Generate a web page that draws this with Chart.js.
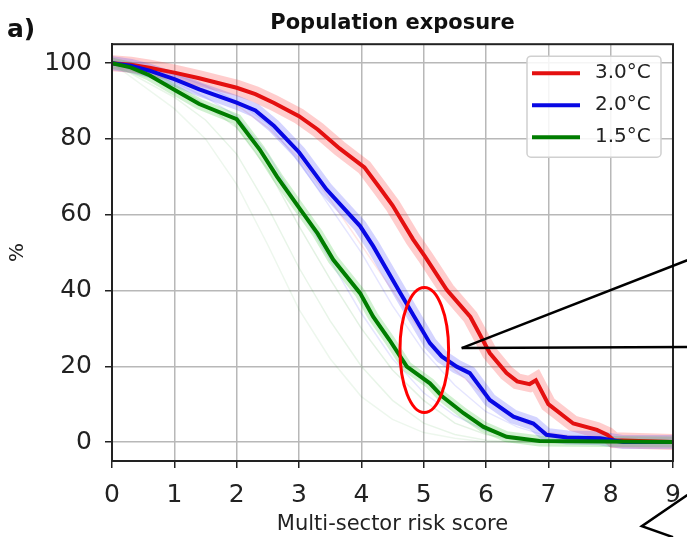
<!DOCTYPE html>
<html>
<head>
<meta charset="utf-8">
<script src="https://cdn.jsdelivr.net/npm/chart.js@4.4.0/dist/chart.umd.min.js"></script>
<style>
  html, body { margin: 0; padding: 0; background: #fff; }
</style>
</head>
<body>
<canvas id="chart" width="687" height="537"></canvas>
<script>
// mean curves
const scoreRed = [0, 0.3, 0.6, 1, 1.4, 2, 2.3, 2.6, 3, 3.3, 3.65, 4.05, 4.3, 4.5, 4.83, 5.02, 5.37, 5.75, 6.06, 6.33, 6.5, 6.7, 6.8, 7.0, 7.4, 7.78, 7.95, 8.05, 9]
const popRed = [100, 99.6, 98.8, 97.5, 96, 93.5, 91.8, 89.5, 86, 82.5, 77.5, 72.5, 67, 62.5, 53.5, 49, 40.2, 33, 23.5, 18.2, 16, 15.3, 16.3, 10, 4.9, 3.2, 1.9, 0.5, 0]

const scoreBlue = [0, 0.3, 0.6, 1, 1.4, 2, 2.3, 2.6, 3, 3.44, 3.98, 4.19, 4.62, 5.1, 5.29, 5.53, 5.74, 6.06, 6.44, 6.76, 6.97, 7.3, 7.83, 8.2, 9]
const popBlue = [100, 99.3, 98, 95.8, 93.1, 89.6, 87.5, 83.4, 76.5, 66.7, 57, 51.7, 39.5, 26.1, 22.6, 19.9, 18.2, 11.1, 6.7, 4.9, 1.9, 1.2, 1, 0, 0]

const scoreGreen = [0, 0.3, 0.6, 1, 1.4, 2, 2.37, 2.65, 3.02, 3.3, 3.55, 3.98, 4.19, 4.45, 4.73, 5.1, 5.3, 5.64, 5.96, 6.33, 6.86, 9]
const popGreen = [100, 98.9, 96.8, 93, 89.2, 85.2, 77.2, 70, 61.4, 55, 48.1, 39.3, 33.1, 27, 19.9, 15.5, 12, 7.6, 4, 1.4, 0.3, 0]

// a few of the faint single-model lines
const faintScore = [0, 1, 1.5, 2, 2.5, 3, 3.5, 4, 4.5, 5, 5.5, 6, 6.5, 7, 8, 9]
const greenFaintA = [100, 88, 80, 68, 52, 35, 22, 12, 6, 2.5, 1, 0, 0, 0, 0, 0]
const greenFaintB = [100, 91, 85, 76, 62, 46, 32, 20, 11, 5, 2, 0.5, 0, 0, 0, 0]
const greenFaintC = [100, 94, 89, 83, 72, 57, 43, 30, 19, 11, 5, 2, 0.5, 0, 0, 0]
const blueFaintA = [100, 95, 91, 86, 76, 62, 48, 34, 22, 13, 7, 3, 1, 0, 0, 0]
const blueFaintB = [100, 97, 94, 90, 84, 74, 62, 50, 36, 24, 15, 8, 4, 1.5, 0, 0]
const redFaintA = [100, 96, 93, 89, 83, 75, 64, 52, 40, 28, 19, 12, 6, 2.5, 0, 0]

const labels = ['3.0°C', '2.0°C', '1.5°C']
const xTicks = [0, 1, 2, 3, 4, 5, 6, 7, 8, 9]
const yTicks = [0, 20, 40, 60, 80, 100]

// red ring + callout, in data units
const ringCenter = [5.01, 24.3]
const ringRadius = [0.39, 16.5]
const calloutTip = [5.61, 24.8]
const calloutEnds = [[9.23, 48], [9.23, 25.1]]
const cornerLines = [[9.23, -14], [8.5, -22.2], [9.0, -25.1]]

const RED = 'rgb(228,16,16)'
const BLUE = 'rgb(8,8,228)'
const GREEN = 'rgb(0,125,0)'
const FONT = 'DejaVu Sans'

const pts = (xs, ys) => xs.map((v, i) => ({ x: v, y: ys[i] }))

function faint(data, color) {
    return { data: pts(faintScore, data), borderColor: color, borderWidth: 1.5, pointRadius: 0, order: 10 }
}

const datasets = [
    { label: labels[2], data: pts(scoreGreen, popGreen), borderColor: GREEN, borderWidth: 4, pointRadius: 0, order: 0 },
    { label: labels[1], data: pts(scoreBlue, popBlue), borderColor: BLUE, borderWidth: 4, pointRadius: 0, order: 1 },
    { label: labels[0], data: pts(scoreRed, popRed), borderColor: RED, borderWidth: 4, pointRadius: 0, order: 2 },
    { data: pts(scoreGreen, popGreen), borderColor: 'rgba(40,190,40,0.22)', borderWidth: 11, pointRadius: 0, order: 3 },
    { data: pts(scoreBlue, popBlue), borderColor: 'rgba(60,60,255,0.22)', borderWidth: 14, pointRadius: 0, order: 4 },
    { data: pts(scoreRed, popRed), borderColor: 'rgba(255,60,60,0.26)', borderWidth: 16, pointRadius: 0, order: 5 },
    faint(greenFaintA, 'rgba(0,140,0,0.07)'),
    faint(greenFaintB, 'rgba(0,140,0,0.09)'),
    faint(greenFaintC, 'rgba(0,140,0,0.11)'),
    faint(blueFaintA, 'rgba(0,0,255,0.1)'),
    faint(blueFaintB, 'rgba(0,0,255,0.1)'),
    faint(redFaintA, 'rgba(255,0,0,0.1)')
]

const extras = {
    id: 'extras',
    afterDraw(chart) {
        const ctx = chart.ctx
        const sx = chart.scales.x, sy = chart.scales.y
        const area = chart.chartArea
        const px = p => [sx.getPixelForValue(p[0]), sy.getPixelForValue(p[1])]
        ctx.save()

        // outer box (top / right spines)
        ctx.strokeStyle = '#222'
        ctx.lineWidth = 2
        ctx.strokeRect(area.left, area.top, area.right - area.left, area.bottom - area.top)

        // legend
        const lw = 134, lh = 101
        const lx = area.right - 12 - lw, ly = area.top + 12
        ctx.fillStyle = 'rgba(255,255,255,0.85)'
        ctx.strokeStyle = '#d0d0d0'
        ctx.lineWidth = 1.5
        ctx.beginPath()
        ctx.roundRect(lx, ly, lw, lh, 4)
        ctx.fill()
        ctx.stroke()
        const legendItems = [[labels[0], RED], [labels[1], BLUE], [labels[2], GREEN]]
        ctx.font = '20px "' + FONT + '"'
        ctx.textBaseline = 'middle'
        legendItems.forEach((it, i) => {
            const yy = ly + 17 + i * 32
            ctx.strokeStyle = it[1]
            ctx.lineWidth = 4
            ctx.beginPath()
            ctx.moveTo(lx + 5, yy)
            ctx.lineTo(lx + 53, yy)
            ctx.stroke()
            ctx.fillStyle = '#222'
            ctx.fillText(it[0], lx + 68, yy)
        })

        // panel letter
        ctx.fillStyle = '#111'
        ctx.font = 'bold 25px "' + FONT + '"'
        ctx.textBaseline = 'middle'
        ctx.fillText('a)', 7, 30)

        // red ring
        const c = px(ringCenter)
        const rx = sx.getPixelForValue(ringCenter[0] + ringRadius[0]) - c[0]
        const ry = c[1] - sy.getPixelForValue(ringCenter[1] + ringRadius[1])
        ctx.strokeStyle = '#f00'
        ctx.lineWidth = 3
        ctx.beginPath()
        ctx.ellipse(c[0], c[1], rx, ry, 0, 0, 2 * Math.PI)
        ctx.stroke()

        // callout lines
        ctx.strokeStyle = '#000'
        ctx.lineWidth = 2.5
        const tip = px(calloutTip)
        calloutEnds.forEach(e => {
            const p = px(e)
            ctx.beginPath()
            ctx.moveTo(tip[0], tip[1])
            ctx.lineTo(p[0], p[1])
            ctx.stroke()
        })
        ctx.beginPath()
        cornerLines.forEach((e, i) => {
            const p = px(e)
            if (i === 0) ctx.moveTo(p[0], p[1])
            else ctx.lineTo(p[0], p[1])
        })
        ctx.stroke()
        ctx.restore()
    }
}

new Chart(document.getElementById('chart').getContext('2d'), {
    type: 'line',
    data: { datasets },
    plugins: [extras],
    options: {
        responsive: false,
        animation: false,
        devicePixelRatio: 1,
        layout: { padding: { left: 0, right: 14, top: 0, bottom: 0 } },
        plugins: {
            legend: { display: false },
            tooltip: { enabled: false },
            title: {
                display: true,
                text: 'Population exposure',
                fullSize: false,
                color: '#111',
                font: { family: FONT, size: 21, weight: 'bold' },
                padding: { top: 11, bottom: 8 }
            }
        },
        scales: {
            x: {
                type: 'linear',
                min: 0,
                max: 9,
                afterFit: s => { s.height = 76; s.paddingLeft = 0; s.paddingRight = 0 },
                afterBuildTicks: s => { s.ticks = xTicks.map(v => ({ value: v })) },
                ticks: { color: '#222', font: { family: FONT, size: 25 }, padding: 12, maxRotation: 0 },
                grid: { color: '#b8b8b8', lineWidth: 1.5, tickLength: 7, tickColor: '#222', tickWidth: 1.5 },
                border: { color: '#222', width: 2 },
                title: { display: true, text: 'Multi-sector risk score', color: '#222', font: { family: FONT, size: 21 }, padding: { top: 0, bottom: 0 } }
            },
            y: {
                min: -5,
                max: 105,
                afterFit: s => { s.width = 112 },
                afterBuildTicks: s => { s.ticks = yTicks.map(v => ({ value: v })) },
                ticks: { color: '#222', font: { family: FONT, size: 25 }, padding: 13 },
                grid: { color: '#b8b8b8', lineWidth: 1.5, tickLength: 7, tickColor: '#222', tickWidth: 1.5 },
                border: { color: '#222', width: 2 },
                title: { display: true, text: '%', color: '#222', font: { family: FONT, size: 20 }, padding: { top: 6, bottom: 0 } }
            }
        }
    }
})
</script>
</body>
</html>
